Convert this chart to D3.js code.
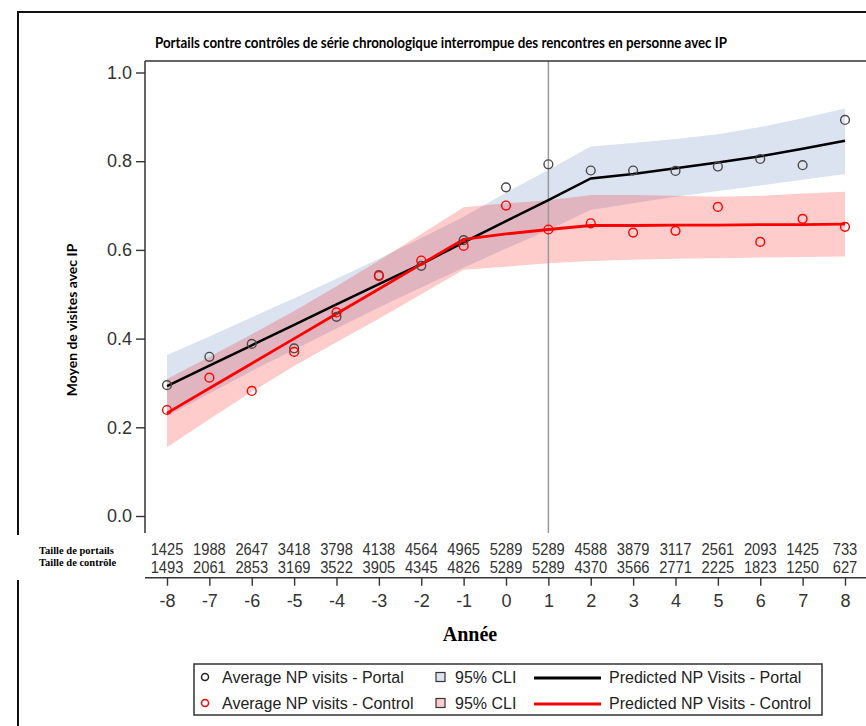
<!DOCTYPE html>
<html><head><meta charset="utf-8">
<script src="https://cdn.jsdelivr.net/npm/d3@7"></script>
<style>body{margin:0;background:#fff}svg{display:block}</style>
</head><body>
<svg id="c" width="866" height="726"></svg>
<script>
// ---------- data ----------
const years = [-8,-7,-6,-5,-4,-3,-2,-1,0,1,2,3,4,5,6,7,8];
const portalAvg  = [0.295,0.359,0.388,0.378,0.449,0.543,0.564,0.622,0.741,0.793,0.779,0.779,0.778,0.788,0.805,0.791,0.893];
const controlAvg = [0.239,0.312,0.282,0.370,0.459,0.541,0.576,0.609,0.700,0.646,0.660,0.639,0.643,0.697,0.618,0.670,0.652];
const portalPred  = [0.293,0.339,0.385,0.431,0.477,0.523,0.568,0.617,0.665,0.712,0.761,0.771,0.784,0.797,0.811,0.828,0.846];
const controlPred = [0.232,0.288,0.344,0.400,0.456,0.512,0.568,0.624,0.636,0.646,0.655,0.655,0.656,0.656,0.657,0.657,0.658];
const portalLower  = [0.225,0.276,0.327,0.375,0.423,0.470,0.515,0.560,0.603,0.645,0.690,0.705,0.720,0.733,0.745,0.758,0.771];
const portalUpper  = [0.363,0.405,0.448,0.491,0.535,0.580,0.627,0.675,0.729,0.780,0.833,0.841,0.850,0.861,0.877,0.897,0.919];
const controlLower = [0.155,0.218,0.280,0.338,0.392,0.445,0.500,0.555,0.562,0.570,0.575,0.578,0.580,0.581,0.583,0.584,0.585];
const controlUpper = [0.309,0.359,0.410,0.462,0.518,0.576,0.636,0.696,0.705,0.712,0.724,0.724,0.722,0.720,0.722,0.727,0.731];
const portalN  = [1425,1988,2647,3418,3798,4138,4564,4965,5289,5289,4588,3879,3117,2561,2093,1425,733];
const controlN = [1493,2061,2853,3169,3522,3905,4345,4826,5289,5289,4370,3566,2771,2225,1823,1250,627];
const yTicks = [0,0.2,0.4,0.6,0.8,1.0];
const interventionYear = 1;
const titleText = "Portails contre contrôles de série chronologique interrompue des rencontres en personne avec IP";
const yTitle = "Moyen de visites avec IP";
const xTitle = "Année";
const rowLabels = ["Taille de portails","Taille de contrôle"];
const legendItems = [
  ["Average NP visits - Portal","95% CLI","Predicted NP Visits - Portal"],
  ["Average NP visits - Control","95% CLI","Predicted NP Visits - Control"]
];

// ---------- setup ----------
const svg = d3.select("#c");
const SANS = "'Liberation Sans', Arial, sans-serif";
const x = d3.scaleLinear().domain([-8,8]).range([167,845]);
const y = d3.scaleLinear().domain([0,1]).range([516,72.5]);
const plotTop = 61, plotBottom = 533, plotLeft = 145, xAxisY = 577.7;

const rows = years.map((yr,i)=>({yr, pa:portalAvg[i], ca:controlAvg[i], pp:portalPred[i], cp:controlPred[i],
  pl:portalLower[i], pu:portalUpper[i], cl:controlLower[i], cu:controlUpper[i], pn:portalN[i], cn:controlN[i]}));

// frame
svg.append("line").attr("x1",18).attr("x2",866).attr("y1",12).attr("y2",12).attr("stroke","#111").attr("stroke-width",2);
svg.append("line").attr("x1",18).attr("x2",18).attr("y1",11).attr("y2",535).attr("stroke","#111").attr("stroke-width",2);
svg.append("line").attr("x1",18).attr("x2",18).attr("y1",580).attr("y2",726).attr("stroke","#111").attr("stroke-width",2);

// title
svg.append("text").attr("x",155).attr("y",48)
  .attr("textLength",572).attr("lengthAdjust","spacingAndGlyphs")
  .style("font-family","Lato, 'Open Sans', sans-serif").style("font-weight","bold").style("font-size","15px")
  .text(titleText);

// bands
const areaP = d3.area().x(d=>x(d.yr)).y0(d=>y(d.pl)).y1(d=>y(d.pu));
const areaC = d3.area().x(d=>x(d.yr)).y0(d=>y(d.cl)).y1(d=>y(d.cu));
svg.append("path").datum(rows).attr("d",areaP).attr("fill","#dae3ef");
svg.append("path").datum(rows).attr("d",areaC).attr("fill","#ff0000").attr("fill-opacity",0.2);

// reference line
svg.append("line").attr("x1",x(interventionYear)).attr("x2",x(interventionYear))
  .attr("y1",plotTop).attr("y2",plotBottom).attr("stroke","#9a9a9a").attr("stroke-width",1.5);

// predicted lines
const lineP = d3.line().x(d=>x(d.yr)).y(d=>y(d.pp));
const lineC = d3.line().x(d=>x(d.yr)).y(d=>y(d.cp));
svg.append("path").datum(rows).attr("d",lineP).attr("fill","none").attr("stroke","#000").attr("stroke-width",2.5);
svg.append("path").datum(rows).attr("d",lineC).attr("fill","none").attr("stroke","#ff0000").attr("stroke-width",2.8);

// markers
svg.append("g").selectAll("circle").data(rows).join("circle")
  .attr("cx",d=>x(d.yr)).attr("cy",d=>y(d.pa)).attr("r",4.4)
  .attr("fill","none").attr("stroke","#4a4a4a").attr("stroke-width",1.4);
svg.append("g").selectAll("circle").data(rows).join("circle")
  .attr("cx",d=>x(d.yr)).attr("cy",d=>y(d.ca)).attr("r",4.4)
  .attr("fill","none").attr("stroke","#ff0000").attr("stroke-width",1.4);

// y axis
const gy = svg.append("g").attr("transform",`translate(${plotLeft},0)`)
  .call(d3.axisLeft(y).tickValues(yTicks).tickFormat(d3.format(".1f")).tickSize(9).tickPadding(4));
gy.select(".domain").remove();
gy.selectAll(".tick line").attr("stroke","#333").attr("stroke-width",1.4);
gy.selectAll(".tick text").style("font-family",SANS).style("font-size","18px").attr("fill","#333");
svg.append("line").attr("x1",plotLeft).attr("x2",plotLeft).attr("y1",plotTop).attr("y2",plotBottom).attr("stroke","#333").attr("stroke-width",1.5);
svg.append("line").attr("x1",plotLeft).attr("x2",866).attr("y1",plotTop).attr("y2",plotTop).attr("stroke","#333").attr("stroke-width",1.5);

// y title
svg.append("text").attr("transform","translate(77,320) rotate(-90)").attr("text-anchor","middle")
  .style("font-family","Lato, 'Open Sans', sans-serif").style("font-weight","bold").style("font-size","14px")
  .text(yTitle);

// table of sizes
const tbl = svg.append("g");
[["pn",555],["cn",572.5]].forEach(([k,by])=>{
  tbl.append("g").selectAll("text").data(rows).join("text")
    .attr("transform",d=>`translate(${x(d.yr)},${by}) scale(0.92,1)`)
    .attr("text-anchor","middle").style("font-family",SANS).style("font-size","16px").attr("fill","#333")
    .text(d=>d[k]);
});
rowLabels.forEach((t,i)=>{
  svg.append("text").attr("x",39).attr("y",554+i*12)
    .style("font-family","'Liberation Serif','Times New Roman',serif").style("font-weight","bold").style("font-size","10.5px")
    .text(t);
});

// x axis
const gx = svg.append("g").attr("transform",`translate(0,${xAxisY})`)
  .call(d3.axisBottom(x).tickValues(years).tickFormat(d=>String(d)).tickSize(8).tickPadding(9));
gx.select(".domain").remove();
gx.selectAll(".tick line").attr("stroke","#333").attr("stroke-width",1.4);
gx.selectAll(".tick text").style("font-family",SANS).style("font-size","18px").attr("fill","#333");
svg.append("line").attr("x1",plotLeft).attr("x2",866).attr("y1",xAxisY).attr("y2",xAxisY).attr("stroke","#333").attr("stroke-width",1.5);

// x title
svg.append("text").attr("x",470).attr("y",641).attr("text-anchor","middle")
  .style("font-family","'Liberation Serif','Times New Roman',serif").style("font-weight","bold").style("font-size","20px")
  .text(xTitle);

// legend
const lg = svg.append("g");
lg.append("rect").attr("x",194).attr("y",664).attr("width",628).attr("height",51)
  .attr("fill","#fff").attr("stroke","#333").attr("stroke-width",1.5);
const markerCols = ["#222","#ff0000"], bandCols = ["#dae3ef","#ffcccc"], lineCols = ["#000","#ff0000"];
legendItems.forEach((it,i)=>{
  const cy = 677 + i*26;
  lg.append("circle").attr("cx",205).attr("cy",cy).attr("r",3.5).attr("fill","none").attr("stroke",markerCols[i]).attr("stroke-width",1.5);
  lg.append("text").attr("x",222).attr("y",cy+6).style("font-family",SANS).style("font-size","16px").attr("fill","#222").text(it[0]);
  lg.append("rect").attr("x",436).attr("y",cy-4.5).attr("width",9).attr("height",9).attr("fill",bandCols[i]).attr("stroke","#333").attr("stroke-width",1.2);
  lg.append("text").attr("x",455).attr("y",cy+6).style("font-family",SANS).style("font-size","16px").attr("fill","#222").text(it[1]);
  lg.append("line").attr("x1",534).attr("x2",601).attr("y1",cy+1).attr("y2",cy+1).attr("stroke",lineCols[i]).attr("stroke-width",3);
  lg.append("text").attr("x",609).attr("y",cy+6).style("font-family",SANS).style("font-size","16px").attr("fill","#222").text(it[2]);
});
</script>
</body></html>
